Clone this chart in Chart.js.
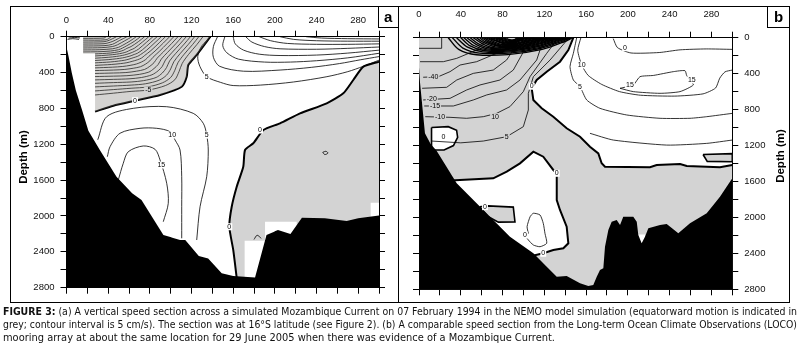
<!DOCTYPE html>
<html>
<head>
<meta charset="utf-8">
<title>Mozambique Current speed sections</title>
<script src="https://cdn.jsdelivr.net/npm/chart.js@4.4.1/dist/chart.umd.min.js"></script>
<style>
  body { margin: 0; width: 801px; height: 350px; overflow: hidden; position: relative; background: #fff; }
  canvas { position: absolute; top: 0; }
  #chartA { left: 0; }
  #chartB { left: 400px; }
  .box { position: absolute; border: 1.3px solid #000; box-sizing: border-box; }
  .tag { font: bold 15px "Liberation Sans", Arial, sans-serif; text-align: center; line-height: 19px; }
  .ytitle { position: absolute; font: bold 11.5px "Liberation Sans", Arial, sans-serif; white-space: nowrap; transform: translate(-50%, -50%) rotate(-90deg); }
  .cap { position: absolute; left: 3px; font: 11px "Liberation Sans Narrow", "DejaVu Sans Condensed", sans-serif; white-space: nowrap; transform-origin: 0 0; color: #111; }
</style>
</head>
<body>
<canvas id="chartA" width="398" height="302"></canvas>
<canvas id="chartB" width="390" height="302"></canvas>

<div class="box" style="left:10px;top:6px;width:780px;height:297px;"></div>
<div class="box" style="left:398px;top:6px;width:1.3px;height:297px;border-width:0 0 0 1.3px;"></div>
<div class="box tag" style="left:377.5px;top:6px;width:21.5px;height:22px;">a</div>
<div class="box tag" style="left:767px;top:6px;width:23px;height:22px;">b</div>
<div class="ytitle" style="left:22.5px;top:157px;">Depth (m)</div>
<div class="ytitle" style="left:779.5px;top:156px;">Depth (m)</div>

<div class="cap" id="cap1" style="top:305px;"><b>FIGURE 3:</b> (a) A vertical speed section across a simulated Mozambique Current on 07 February 1994 in the NEMO model simulation (equatorward motion is indicated in</div>
<div class="cap" id="cap2" style="top:318px;">grey; contour interval is 5 cm/s). The section was at 16°S latitude (see Figure 2). (b) A comparable speed section from the Long-term Ocean Climate Observations (LOCO)</div>
<div class="cap" id="cap3" style="top:331px;">mooring array at about the same location for 29 June 2005 when there was evidence of a Mozambique Current.</div>

<script>
// axis labels (distance in km, depth in m)
const distLabels = [0, 40, 80, 120, 160, 200, 240, 280];
const depthLabels = [0, 400, 800, 1200, 1600, 2000, 2400, 2800];

// ---------- panel a : NEMO model ----------
// sea floor, in three pieces across the section
const aFloorWest = [[0,115],[2,220],[5,400],[9,600],[15,820],[21,1050],[32,1264],[48,1562],[63,1747],[72,1822],[93,2212],[100.5,2238],[100.5,2800],[0,2800]];
const aFloorMid = [[100,2236],[109,2268],[114,2268],[127,2447],[136,2473],[149,2640],[160,2670],[181,2685],[192,2212],[200.5,2169],[200.5,2800],[100,2800]];
const aFloorEast = [[200,2171],[203,2156],[215,2200],[226,2019],[248,2026],[269,2056],[280,2026],[300,1995],[300,2800],[200,2800]];
const aGreyJet = [[27.4,836],[27.4,190],[16,190],[16,0],[138,0],[134.6,56],[125,204],[116.9,316],[115.4,446],[110.6,558],[89.8,650],[65.8,714],[45,770]];
const aGreyEast = [[300,279],[285,334],[275.3,483],[265.7,632],[249.8,743],[224.2,855],[205,966],[189,1041],[179.3,1189],[171.4,1264],[169.7,1450],[163.4,1673],[158.6,1897],[156.3,2120],[160.1,2380],[163.4,2690],[171,2690],[171,2275],[190.6,2275],[190.6,2064],[221,2064],[221,2150],[292,2150],[292,1852],[300,1852]];
const aZeroJet = [[27.4,836],[45,770],[65.8,714],[89.8,650],[110.6,558],[115.4,446],[116.9,316],[125,204],[134.6,56],[138,0]];
const aZeroEast = [[300,279],[285,334],[275.3,483],[265.7,632],[249.8,743],[224.2,855],[205,966],[189,1041],[179.3,1189],[171.4,1264],[169.7,1450],[163.4,1673],[158.6,1897],[156.3,2120],[160.1,2380],[163.4,2690]];
// jet contours, -5 outwards to the core
const aJet = [
  [[27.4,650],[45,630],[62,610],[78.5,595],[95,545],[104,480],[108,390],[111,300],[117,200],[125,90],[131,0]],
  [[27.4,605],[45,590],[62,575],[78,560],[92,515],[100,455],[104,375],[107,290],[113,195],[121,88],[127,0]],
  [[27.4,560],[45,550],[62,540],[76,525],[89,485],[96,430],[100,360],[103,280],[109,190],[117,85],[123,0]],
  [[27.4,520],[45,512],[62,505],[74,490],[86,455],[92,405],[96,345],[99,270],[105,185],[113,82],[119,0]],
  [[27.4,482],[45,476],[60,470],[72,455],[82,425],[88,380],[92,330],[95,260],[101,180],[109,80],[115,0]],
  [[27.4,445],[45,440],[58,435],[70,420],[79,395],[84,355],[88,310],[91,250],[97,175],[105,78],[111,0]],
  [[27.4,410],[45,405],[57,400],[67,385],[75,365],[80,330],[84,290],[87,240],[93,170],[101,75],[107,0]],
  [[27.4,378],[45,372],[56,365],[64,352],[71,335],[76,305],[80,270],[83,230],[89,165],[97,72],[103,0]],
  [[27.4,348],[44,340],[54,332],[61,320],[67,305],[72,282],[76,255],[79,220],[85,160],[93,70],[99,0]],
  [[27.4,320],[43,310],[52,300],[58,290],[63,275],[68,258],[72,238],[75,210],[81,155],[89,68],[95,0]],
  [[27.4,292],[42,282],[50,272],[56,262],[60,250],[64,235],[68,220],[71,200],[77,150],[85,65],[91,0]],
  [[27.4,265],[40,256],[48,246],[54,236],[58,225],[62,212],[65,198],[68,185],[73,145],[81,62],[87,0]],
  [[27.4,240],[40,230],[48,220],[54,208],[58,196],[62,180],[65,165],[69,140],[77,60],[83,0]],
  [[27.4,215],[40,205],[48,195],[54,182],[58,168],[61,150],[65,130],[73,58],[79,0]],
  [[27.4,192],[42,182],[50,168],[55,150],[58,130],[62,110],[69,55],[75,0]],
  [[16,170],[30,168],[42,160],[50,145],[54,125],[58,100],[65,52],[71,0]],
  [[16,148],[32,145],[44,135],[50,118],[54,95],[61,48],[67,0]],
  [[16,126],[34,122],[44,110],[49,90],[56,45],[63,0]],
  [[16,104],[36,100],[44,85],[51,42],[58,0]],
  [[16,82],[36,78],[42,62],[47,38],[53,0]],
  [[16,60],[36,56],[41,40],[48,0]],
  [[16,38],[38,34],[43,0]],
  [[16,18],[36,15],[38,0]],
  [[1,30],[6,22],[12,30]],
  [[2,15],[8,8],[13,14]]
];
// poleward flow contours
const aNorth = [
  [[139,0],[130,100],[126,220],[128,330],[134.6,446],[148,510],[160,545],[186,540],[218,505],[250,446],[270,390],[285,330],[300,262]],
  [[145,0],[141,110],[141,230],[147,330],[170,385],[205,372],[235,342],[262,300],[282,258],[300,222]],
  [[152,0],[150,100],[154,180],[165,250],[190,283],[215,283],[240,268],[270,236],[300,185]],
  [[160,0],[162,80],[170,150],[185,195],[205,210],[240,205],[270,183],[300,150]],
  [[172,0],[178,60],[190,110],[205,135],[240,140],[270,130],[300,115]],
  [[185,0],[196,45],[212,75],[240,85],[270,85],[300,80]],
  [[205,0],[218,30],[240,45],[270,50],[300,50]],
  [[230,0],[245,15],[270,22],[300,25]],
  [[30,1150],[38.6,892],[64.1,799],[96.2,781],[121.7,855],[131.3,966],[134.6,1097],[136.1,1264],[134.6,1562],[128.2,1897],[125,2268]],
  [[39.2,1339],[41.8,1227],[51.4,1077],[70.6,1022],[86.6,1022],[99.4,1060],[104.2,1152],[109,1264],[110.6,1562],[110.6,1897],[110.6,2249]],
  [[49.7,1599],[54.5,1412],[59.3,1283],[73.7,1219],[85,1256],[89.8,1375],[96.2,1635],[97.7,1859],[92.9,2064]],
  [[246,1290],[249,1278],[251,1298],[248,1315],[246,1290]],
  [[180,2262],[183,2215],[187,2250]]
];
const aContourText = [[78.5,595,'-5'],[65.8,714,'0'],[134.6,446,'5'],[101.5,1097,'10'],[134.6,1097,'5'],[185.8,1041,'0'],[91,1431,'15'],[156.3,2120,'0']];

// ---------- panel b : LOCO moorings ----------
const bSeaFloor = [[0,330],[1,500],[2.6,693],[5.7,1064],[11,1180],[17,1260],[36.1,1620],[61.6,1917],[87.1,2215],[109.5,2399],[122.3,2548],[131.9,2660],[141.4,2652],[154.2,2733],[162.1,2763],[166.9,2752],[170.2,2660],[173.3,2585],[176.5,2566],[178.1,2326],[181.3,2140],[184.5,2048],[189.3,2029],[192.5,2085],[195.6,1992],[205.2,1992],[208.5,2048],[210,2196],[213.2,2288],[216.4,2215],[219.6,2121],[230.8,2085],[237.2,2073],[248.3,2177],[259.5,2066],[275.5,1954],[288.2,1769],[300,1565],[300,2800],[0,2800]];
const bGreyWest = [[0,0],[147.8,0],[143,137],[135,267],[122.3,378],[112.7,471],[107.9,563],[109.5,693],[117.5,786],[128.6,879],[141.4,1008],[154.2,1102],[163.7,1213],[171.7,1287],[174.9,1398],[178.1,1436],[221.2,1442],[227.6,1416],[250,1405],[256.4,1428],[288.2,1442],[300,1416],[300,2800],[0,2800]];
const bZero = [[147.8,0],[143,137],[135,267],[122.3,378],[112.7,471],[107.9,563],[109.5,693],[117.5,786],[128.6,879],[141.4,1008],[154.2,1102],[163.7,1213],[171.7,1287],[174.9,1398],[178.1,1436],[221.2,1442],[227.6,1416],[250,1405],[256.4,1428],[288.2,1442],[300,1416]];
const bPocketLow = [[30,1590],[71.1,1565],[84,1491],[96.7,1398],[109.5,1269],[119,1324],[128.6,1472],[131.9,1509],[131.9,1806],[135,1917],[141.4,2103],[143,2288],[138.2,2344],[128.6,2362],[119,2399],[100,2450],[20,1700],[30,1590]];
const bPocketHigh = [[12,1000],[28,990],[36,1030],[37,1110],[33,1200],[24,1250],[12,1250],[12,1000]];
const bFinger = [[58,1882],[66,1872],[90.3,1885],[91.9,2050],[76,2052],[66,1990],[58,1882]];
const bSliver = [[272,1300],[300,1290],[300,1380],[276,1376],[272,1300]];
const bNotch = [[210,2190],[216.4,2190],[216.4,2300],[210,2300]];
const bBell = [[104.7,2177],[103.5,2103],[106.4,1992],[109.5,1954],[115.9,1973],[119,2066],[120.6,2177],[122.3,2288],[115.9,2326],[109.5,2307],[104.7,2251],[101.5,2196],[104.7,2177]];
const bSouth = [
  [[0,118],[21.7,118],[21.7,0]],
  [[1,267],[23.3,267],[36.1,230],[55.2,137],[64.8,25],[66,0]],
  [[4,440],[18.5,434],[29.7,378],[39.3,304],[55.2,267],[74.3,174],[83.9,25],[85,0]],
  [[3,563],[26.5,552],[36.1,471],[52,397],[71.1,360],[83.9,248],[96.7,25],[98,0]],
  [[4,693],[29.7,675],[45.6,582],[58.4,526],[77.5,471],[90.3,360],[106.3,25],[107,0]],
  [[5,760],[32.9,760],[52,693],[64.8,637],[83.9,582],[96.7,471],[112.7,248],[119.1,25],[120,0]],
  [[6,879],[29.7,886],[45.6,897],[61.6,879],[74.3,842],[87.1,767],[99.9,600],[106.3,434],[122.3,174],[131.9,25],[133,0]],
  [[12,1150],[40,1170],[61.6,1150],[83.9,1102],[99.9,990],[104.7,805],[104.7,619],[109.5,434],[125.5,248],[141.5,30],[143,0]]
];
// the near-surface core, where the contours crowd together
const bCore = [
  [[28,0],[38,130],[55,190],[85,188],[118,130],[139,45],[147,0]],
  [[32,0],[42,115],[58,172],[86,172],[116,120],[137,40],[146,0]],
  [[36,0],[46,102],[61,158],[87,158],[115,110],[135,36],[145,0]],
  [[40,0],[49,92],[63,146],[88,146],[113,101],[133,32],[144,0]],
  [[43,0],[52,84],[65,136],[88,136],[112,93],[131,29],[142,0]],
  [[46,0],[55,76],[67,127],[89,127],[110,86],[129,26],[141,0]],
  [[49,0],[57,69],[69,118],[89,119],[109,79],[127,23],[139,0]],
  [[52,0],[60,62],[71,110],[90,111],[107,73],[125,21],[137,0]],
  [[55,0],[62,56],[73,102],[90,103],[106,67],[123,18],[135,0]],
  [[58,0],[64,50],[75,94],[90,96],[104,61],[121,16],[133,0]],
  [[60,0],[66,45],[76,87],[91,89],[103,56],[119,14],[131,0]],
  [[62,0],[68,40],[78,80],[91,82],[101,51],[117,12],[128,0]],
  [[64,0],[70,35],[79,73],[91,75],[100,46],[114,10],[125,0]],
  [[66,0],[72,30],[81,66],[91,68],[99,41],[111,8],[122,0]],
  [[68,0],[73,26],[82,59],[91,61],[97,36],[108,7],[118,0]],
  [[70,0],[75,22],[83,52],[91,54],[96,31],[105,5],[114,0]],
  [[72,0],[77,18],[84,45],[91,47],[95,27],[102,4],[110,0]],
  [[74,0],[78,14],[85,38],[91,40],[94,22],[99,3],[106,0]],
  [[76,0],[80,10],[86,30],[91,32],[93,17],[97,0]],
  [[78,0],[82,7],[87,22],[91,23],[93,10],[95,0]]
];
const bNorth = [
  [[151,0],[147.8,174],[144.6,322],[147.8,471],[154.2,545],[160.6,693],[173.3,786],[198.9,860],[230.8,897],[259.5,897],[275.5,879],[300,842]],
  [[155,0],[152,140],[155.8,304],[162,420],[175,520],[192,600],[212,640],[245,650],[272,625],[284,560],[288,450],[293,380],[300,360]],
  [[192.5,563],[205.2,526],[211.6,434],[224.4,420],[243.5,378],[254.7,367],[256.3,420],[259.5,471],[262.7,526],[249.9,600],[230.8,619],[205.2,600],[192.5,563]],
  [[186,10],[190,110],[203,170],[230,165],[250,135],[275,125],[300,130]],
  [[163.7,1064],[186.1,1139],[237.2,1195],[275.5,1176],[300,1139]]
];
const bContourText = [[13.7,434,'-40'],[12.2,686,'-20'],[15.3,760,'-15'],[20.1,879,'-10'],[23.3,1102,'0'],[72.8,879,'10'],[84,1102,'5'],[108,540,'0'],[155.8,304,'10'],[154.2,545,'5'],[202,526,'15'],[261.2,471,'15'],[197.3,111,'0'],[63.2,1880,'0'],[131.9,1509,'0'],[119,2399,'0'],[101.5,2196,'0']];

// ---------- helpers ----------
const GREY = '#d3d3d3';
// laid over the jet's contour lines: white paper comes out as the same light grey
const JET_WASH = 'rgba(125,120,115,0.33)';
const toXY = arr => arr.map(p => ({x: p[0], y: p[1]}));

function area(arr, color) {
  return {data: toXY(arr), showLine: true, fill: 'shape', backgroundColor: color,
    borderColor: 'rgba(0,0,0,0)', borderWidth: 0, pointRadius: 0, tension: 0};
}
function line(arr, width, tension) {
  return {data: toXY(arr), showLine: true, fill: false, borderColor: '#000',
    borderWidth: width, pointRadius: 0, tension: tension};
}

// small contour values written on the lines
const contourText = {
  id: 'contourText',
  afterDatasetsDraw(chart, args, opts) {
    const {ctx, scales} = chart;
    ctx.save();
    ctx.font = '7px "Liberation Sans", Arial, sans-serif';
    ctx.textAlign = 'center';
    ctx.textBaseline = 'middle';
    (opts.items || []).forEach(it => {
      const px = scales.x.getPixelForValue(it[0]);
      const py = scales.y.getPixelForValue(it[1]);
      const w = ctx.measureText(it[2]).width + 2;
      ctx.fillStyle = it[3] || '#fff';
      ctx.fillRect(px - w / 2, py - 3.5, w, 7);
      ctx.fillStyle = '#000';
      ctx.fillText(it[2], px, py);
    });
    ctx.restore();
  }
};

function axes(cfg) {
  const tickFont = {family: '"Liberation Sans", Arial, sans-serif', size: 9.5};
  const grid = {drawOnChartArea: false, tickLength: 6, color: '#000', lineWidth: 1};
  const border = {display: true, color: '#000', width: 1};
  return {
    x: {type: 'linear', position: 'top', min: 0, max: 300, grid: grid, border: border,
      ticks: {stepSize: 20, maxTicksLimit: 20, autoSkip: false, maxRotation: 0, font: tickFont, color: '#111', padding: cfg.xPad,
        callback: v => distLabels.includes(v) ? String(v) : ''},
      afterFit: s => { s.height = cfg.top; }},
    x2: {type: 'linear', position: 'bottom', min: 0, max: 300, grid: grid, border: border,
      ticks: {stepSize: 20, maxTicksLimit: 20, display: false},
      afterFit: s => { s.height = cfg.bottom; }},
    y: {type: 'linear', position: cfg.labelSide, reverse: true, min: 0, max: 2800, grid: grid, border: border,
      ticks: {stepSize: 200, maxTicksLimit: 20, autoSkip: false, font: tickFont, color: '#111', padding: 6,
        callback: v => depthLabels.includes(v) ? String(v) : ''},
      afterFit: s => { s.width = cfg.labelW; }},
    y2: {type: 'linear', position: cfg.labelSide === 'left' ? 'right' : 'left', reverse: true, min: 0, max: 2800,
      grid: grid, border: border, ticks: {stepSize: 200, maxTicksLimit: 20, display: false},
      afterFit: s => { s.width = cfg.otherW; }}
  };
}

function makeChart(id, datasets, texts, cfg) {
  // datasets are listed top first: chart.js paints dataset 0 last
  return new Chart(document.getElementById(id), {
    type: 'scatter',
    data: {datasets: datasets},
    options: {
      responsive: false, animation: false, devicePixelRatio: 1,
      layout: {padding: 0, autoPadding: false},
      plugins: {legend: {display: false}, tooltip: {enabled: false}, contourText: {items: texts}},
      scales: axes(cfg)
    },
    plugins: [contourText]
  });
}

const dsA = [
  area(aFloorWest, '#000'),
  area(aFloorMid, '#000'),
  area(aFloorEast, '#000'),
  area(aGreyJet, JET_WASH),
  line(aZeroEast, 2, 0.2),
  line(aZeroJet, 2, 0.2),
  ...aNorth.map(c => line(c, 0.8, 0.3)),
  ...aJet.map(c => line(c, 0.8, 0.3)),
  area(aGreyEast, GREY)
];
makeChart('chartA', dsA, aContourText.map(t => t.concat(t[2] === '-5' ? [GREY] : [])), {top: 36.7, bottom: 14.3, labelSide: 'left', labelW: 66.5, otherW: 19, xPad: 5});

const dsB = [
  area(bSeaFloor, '#000'),
  line(bSliver, 1.6, 0),
  line(bFinger, 1.6, 0),
  line(bPocketHigh, 1.6, 0),
  line(bPocketLow, 2, 0),
  line(bZero, 2, 0),
  line(bBell, 0.8, 0.2),
  ...bNorth.map(c => line(c, 0.8, 0.2)),
  ...bCore.map(c => line(c, 1.4, 0.3)),
  ...bSouth.map(c => line(c, 0.8, 0)),
  area(bSliver, GREY),
  area(bFinger, GREY),
  area(bNotch, '#fff'),
  area(bPocketHigh, '#fff'),
  area(bPocketLow, '#fff'),
  area(bGreyWest, GREY)
];
const greyB = ['-40','-20','-15','-10','10','5'];
makeChart('chartB', dsB, bContourText.map((t, i) => t.concat(i < 8 && greyB.includes(t[2]) ? [GREY] : [])), {top: 37.7, bottom: 12.7, labelSide: 'right', labelW: 57.7, otherW: 19, xPad: 12});

// stretch each caption line to the width it has in the printed figure
const capWidths = {cap1: 794, cap2: 794, cap3: 552};
Object.keys(capWidths).forEach(id => {
  const el = document.getElementById(id);
  const w = el.getBoundingClientRect().width;
  el.style.transform = 'scaleX(' + (capWidths[id] / w) + ')';
});
</script>
</body>
</html>
